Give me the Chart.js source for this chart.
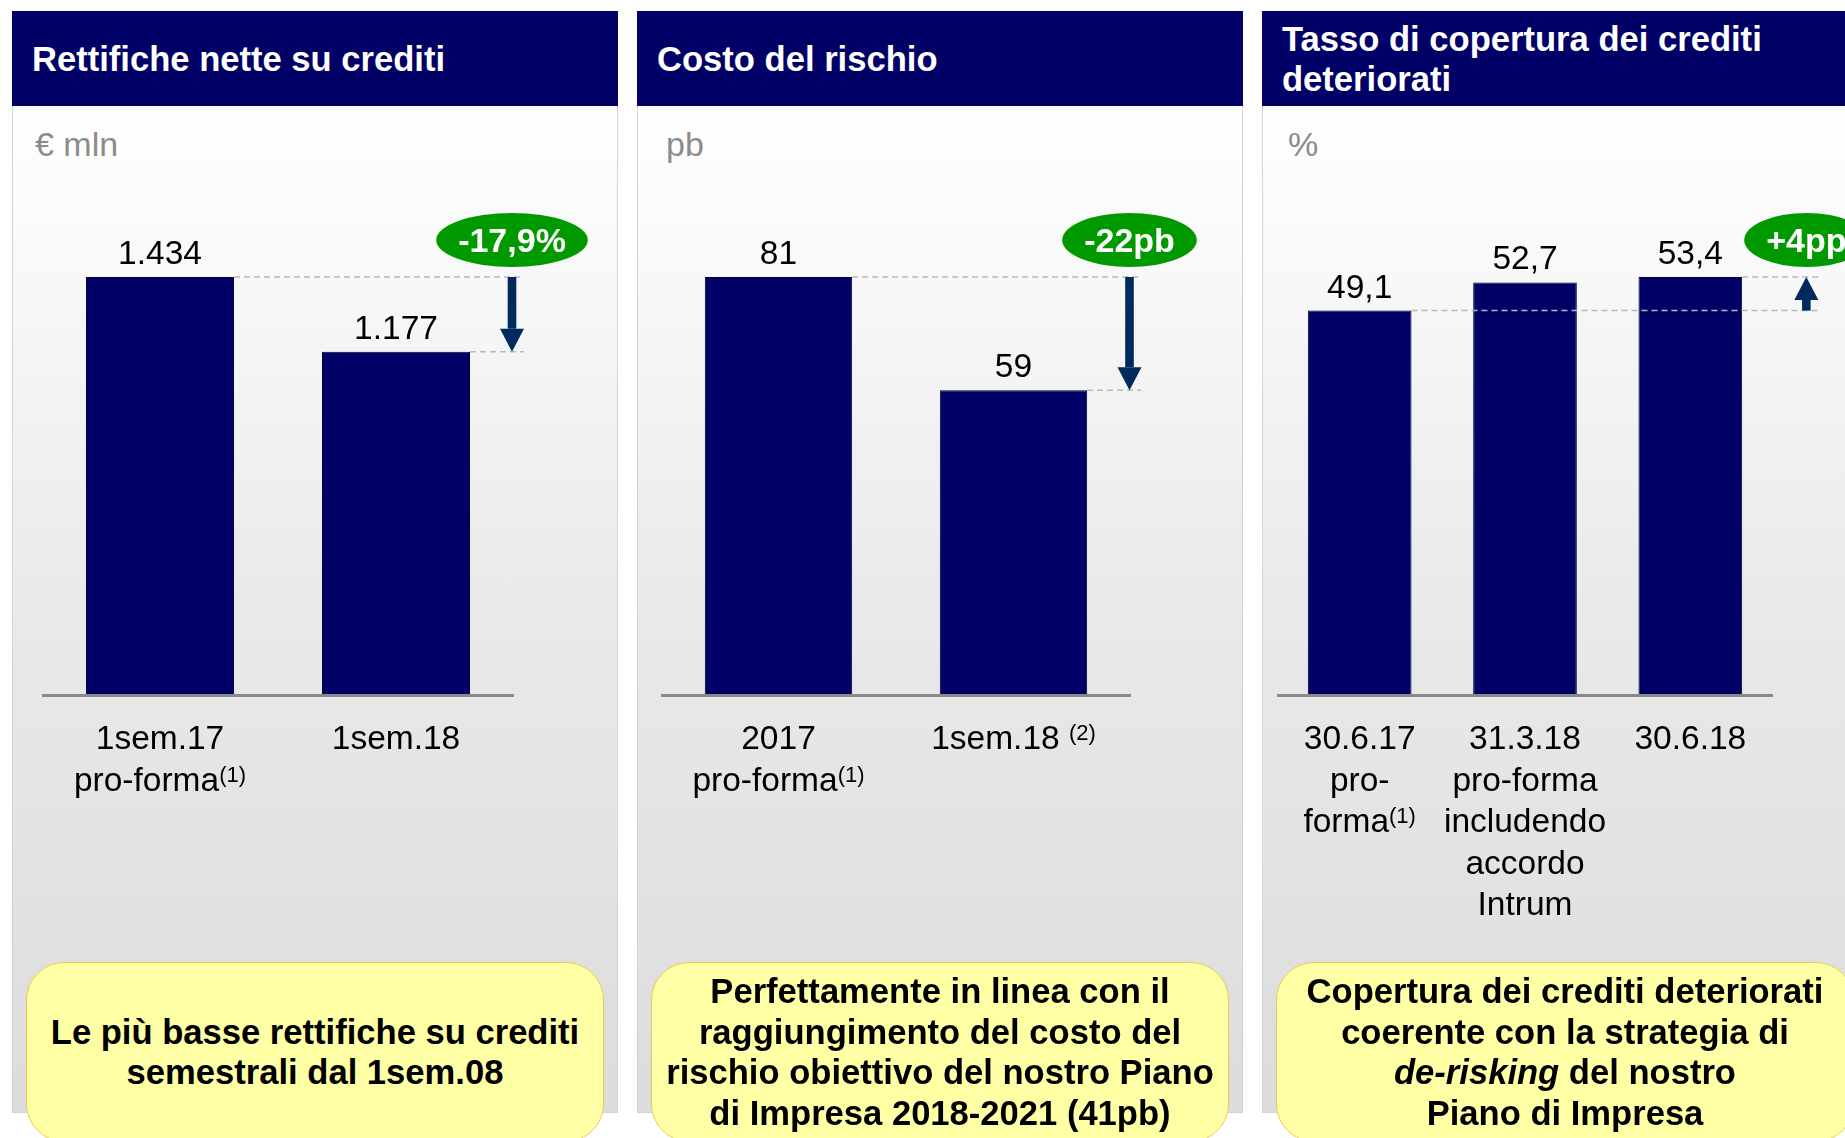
<!DOCTYPE html>
<html lang="it">
<head>
<meta charset="utf-8">
<title>Rettifiche, costo del rischio, copertura</title>
<script src="https://cdn.jsdelivr.net/npm/chart.js@4.4.1/dist/chart.umd.min.js"></script>
<style>
html, body { margin: 0; padding: 0; background: #fff; overflow: hidden; }
body { width: 1845px; height: 1138px; position: relative; font-family: "Liberation Sans", Arial, Helvetica, sans-serif; }
.panel { position: absolute; top: 11px; width: 606px; height: 1102px; box-sizing: border-box; border: 1px solid #d4d4d4;
  background: linear-gradient(to bottom, #ffffff 8%, #fafafa 20%, #e9e9e9 55%, #dcdcdc 100%); }
.head { position: absolute; left: -1px; top: -1px; right: -1px; height: 95px; box-sizing: border-box; padding-left: 20px;
  background: #000066; color: #fff; font-weight: bold; font-size: 34.6px; line-height: 40px; display: flex; align-items: center; }
.unit { position: absolute; top: 115px; font-size: 34px; line-height: 34px; color: #8c8c8c; }
.panel canvas { position: absolute; left: -1px; top: 94px; }
.note { position: absolute; left: 13px; top: 950px; width: 578px; height: 180px; box-sizing: border-box; z-index: 2;
  background: #ffffa6; border: 1.5px solid #ecc94e; border-radius: 38px;
  display: flex; align-items: center; justify-content: center; text-align: center;
  font-weight: bold; font-size: 34.6px; line-height: 40.5px; color: #000; }
</style>
</head>
<body>

<div class="panel" style="left:12px">
  <div class="head">Rettifiche nette su crediti</div>
  <div class="unit" style="left:22px">€ mln</div>
  <canvas id="rettChart" width="606" height="1007"></canvas>
  <div class="note"><div>Le più basse rettifiche su crediti<br>semestrali dal 1sem.08</div></div>
</div>

<div class="panel" style="left:637px">
  <div class="head">Costo del rischio</div>
  <div class="unit" style="left:28px">pb</div>
  <canvas id="costoChart" width="606" height="1007"></canvas>
  <div class="note"><div>Perfettamente in linea con il<br>raggiungimento del costo del<br>rischio obiettivo del nostro Piano<br>di Impresa 2018-2021 (41pb)</div></div>
</div>

<div class="panel" style="left:1262px">
  <div class="head"><div>Tasso di copertura dei crediti<br>deteriorati</div></div>
  <div class="unit" style="left:25px">%</div>
  <canvas id="copChart" width="606" height="1007"></canvas>
  <div class="note"><div>Copertura dei crediti deteriorati<br>coerente con la strategia di<br><i>de-risking</i> del nostro<br>Piano di Impresa</div></div>
</div>

<script>
// "^" marks where the superscript part of a label line starts
const rettLabels = [["1sem.17", "pro-forma^(1)"], ["1sem.18"]];
const rettValues = [1434, 1177];
const rettBadge = "-17,9%";

const costoLabels = [["2017", "pro-forma^(1)"], ["1sem.18 ^(2)"]];
const costoValues = [81, 59];
const costoBadge = "-22pb";

const copLabels = [["30.6.17", "pro-", "forma^(1)"], ["31.3.18", "pro-forma", "includendo", "accordo", "Intrum"], ["30.6.18"]];
const copValues = [49.1, 52.7, 53.4];
const copBadge = "+4pp";

const FONT = '"Liberation Sans", Arial, Helvetica, sans-serif';
Chart.defaults.font.family = FONT;

function fmtIt(v, dec) {
    const parts = v.toFixed(dec).split('.');
    parts[0] = parts[0].replace(/\B(?=(\d{3})+(?!\d))/g, '.');
    return parts.join(',');
}

function drawLabelLine(ctx, line, cx, y) {
    const [main, sup] = line.split('^');
    ctx.font = `33.5px ${FONT}`;
    const wMain = ctx.measureText(main).width;
    let wSup = 0;
    if (sup) { ctx.font = `22px ${FONT}`; wSup = ctx.measureText(sup).width; }
    const x = cx - (wMain + wSup) / 2;
    ctx.textAlign = 'left';
    ctx.font = `33.5px ${FONT}`;
    ctx.fillText(main, x, y);
    if (sup) { ctx.font = `22px ${FONT}`; ctx.fillText(sup, x + wMain, y - 9); }
}

const decorPlugin = {
    id: 'decor',
    afterDatasetsDraw(chart, args, o) {
        const { ctx, chartArea } = chart;
        const bars = chart.getDatasetMeta(0).data;
        ctx.save();

        // base line
        ctx.strokeStyle = '#8a8a8a';
        ctx.lineWidth = 3;
        ctx.beginPath();
        ctx.moveTo(chartArea.left, chartArea.bottom + 1.5);
        ctx.lineTo(chartArea.right, chartArea.bottom + 1.5);
        ctx.stroke();

        // values over the bars
        ctx.fillStyle = '#000';
        ctx.textBaseline = 'alphabetic';
        ctx.textAlign = 'center';
        ctx.font = `33.5px ${FONT}`;
        bars.forEach((b, i) => ctx.fillText(fmtIt(o.values[i], o.dec), b.x, b.y - 13));

        // category labels
        o.labels.forEach((lines, i) => {
            lines.forEach((ln, k) => drawLabelLine(ctx, ln, bars[i].x, chartArea.bottom + 55 + k * 41.5));
        });

        // comparison: dashed guides, arrow, badge
        const a = bars[0], b = bars[bars.length - 1];
        const ax = b.x + 116;
        ctx.strokeStyle = '#b8b8b8';
        ctx.lineWidth = 1.5;
        ctx.setLineDash([6, 4]);
        [a, b].forEach(bar => {
            ctx.beginPath();
            ctx.moveTo(bar.x + bar.width / 2, bar.y);
            ctx.lineTo(ax + 12, bar.y);
            ctx.stroke();
        });
        ctx.setLineDash([]);

        const y0 = a.y, y1 = b.y, dir = Math.sign(y1 - y0);
        const head = 23, hw = 12, sw = 4.3;
        ctx.fillStyle = '#002a5e';
        ctx.fillRect(ax - sw, Math.min(y0, y1 - dir * head), sw * 2, Math.abs(y1 - dir * head - y0));
        ctx.beginPath();
        ctx.moveTo(ax - hw, y1 - dir * head);
        ctx.lineTo(ax + hw, y1 - dir * head);
        ctx.lineTo(ax, y1);
        ctx.closePath();
        ctx.fill();

        const topY = Math.min(...bars.map(r => r.y));
        const cy = topY - 37;
        ctx.font = `bold 34px ${FONT}`;
        const tw = ctx.measureText(o.badge).width;
        ctx.fillStyle = '#009a00';
        ctx.beginPath();
        ctx.ellipse(ax, cy, (tw + 44) / 2, 27, 0, 0, Math.PI * 2);
        ctx.fill();
        ctx.fillStyle = '#fff';
        ctx.textAlign = 'center';
        ctx.fillText(o.badge, ax, cy + 11.5);

        ctx.restore();
    }
};

function makeChart(id, labels, values, dec, badge, padLeft, padRight) {
    return new Chart(document.getElementById(id), {
        type: 'bar',
        data: {
            labels: labels.map(l => l.join(' ').replace('^', '')),
            datasets: [{
                data: values,
                backgroundColor: '#000066',
                borderColor: '#000033',
                borderWidth: 1,
                barPercentage: 0.627,
                categoryPercentage: 1,
                clip: false
            }]
        },
        options: {
            responsive: false,
            animation: false,
            layout: { padding: { left: padLeft, right: padRight, top: 171, bottom: 419 } },
            plugins: {
                legend: { display: false },
                tooltip: { enabled: false },
                decor: { labels, values, dec, badge }
            },
            scales: {
                x: { display: false, grid: { display: false } },
                y: { display: false, min: 0, max: Math.max(...values) }
            }
        },
        plugins: [decorPlugin]
    });
}

makeChart('rettChart', rettLabels, rettValues, 0, rettBadge, 30, 104);
makeChart('costoChart', costoLabels, costoValues, 0, costoBadge, 24, 112);
makeChart('copChart', copLabels, copValues, 1, copBadge, 15, 95);
</script>
</body>
</html>
